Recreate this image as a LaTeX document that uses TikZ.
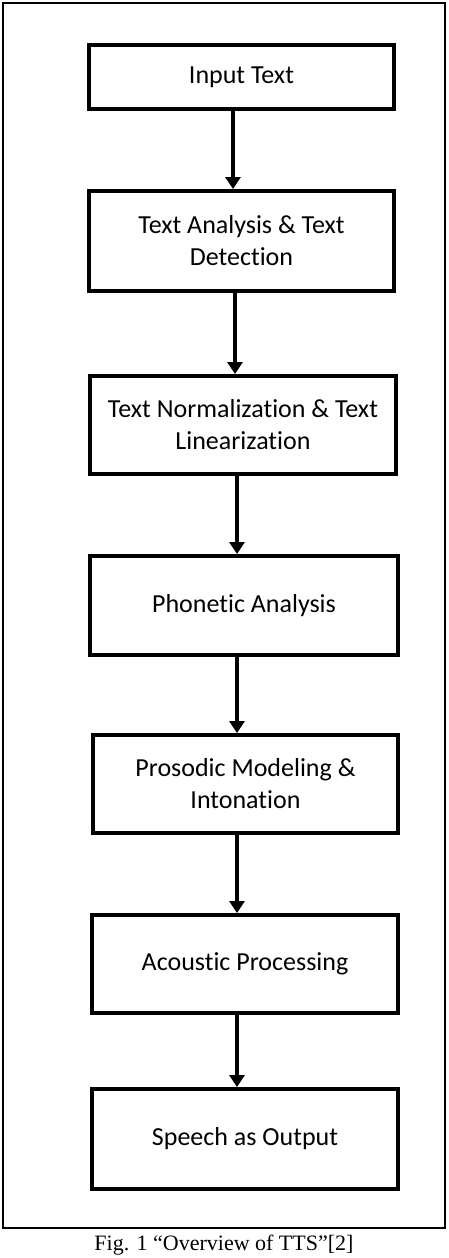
\documentclass[tikz,border=0pt]{standalone}
\usepackage{fontspec}
\setmainfont{Liberation Serif}
\newfontfamily\boxfont[Ligatures=NoCommon]{Carlito}
\usetikzlibrary{arrows.meta,calc}
\begin{document}
\begin{tikzpicture}[x=1pt,y=-1pt,
  stepbox/.style={draw=black,line width=4pt,minimum width=305pt,inner sep=0pt,
    align=center,font=\boxfont\fontsize{26}{32}\selectfont},
  arr/.style={line width=4pt,-{Triangle[length=12pt,width=15pt]}}]
\useasboundingbox (0,0) rectangle (448,1258);
\draw[line width=2pt] (3,3) rectangle (445,1228);
\node[stepbox,minimum height=64pt] (b1) at (241.5,77) {Input Text};
\node[stepbox,minimum height=100pt] (b2) at (241.5,241) {Text Analysis \& Text\\Detection};
\node[stepbox,minimum height=98pt,minimum width=306pt] (b3) at (243,425) {Text Normalization \& Text\\Linearization};
\node[stepbox,minimum height=99pt,minimum width=308pt] (b4) at (244,605.5) {Phonetic Analysis};
\node[stepbox,minimum height=98pt] (b5) at (245.5,784) {Prosodic Modeling \&\\Intonation};
\node[stepbox,minimum height=98pt,minimum width=306pt] (b6) at (245,964) {Acoustic Processing};
\node[stepbox,minimum height=100pt,minimum width=306pt] (b7) at (245,1139) {Speech as Output};
\draw[arr] (b1.south -| 233,0) -- (b2.north -| 233,0);
\draw[arr] (b2.south -| 235,0) -- (b3.north -| 235,0);
\draw[arr] (b3.south -| 237,0) -- (b4.north -| 237,0);
\draw[arr] (b4.south -| 237,0) -- (b5.north -| 237,0);
\draw[arr] (b5.south -| 237,0) -- (b6.north -| 237,0);
\draw[arr] (b6.south -| 237,0) -- (b7.north -| 237,0);
\node[font=\fontsize{22}{24}\selectfont,inner sep=0pt] (cap) at (224,1245) {Fig. 1 “Overview of TTS”[2]};
\end{tikzpicture}
\end{document}
